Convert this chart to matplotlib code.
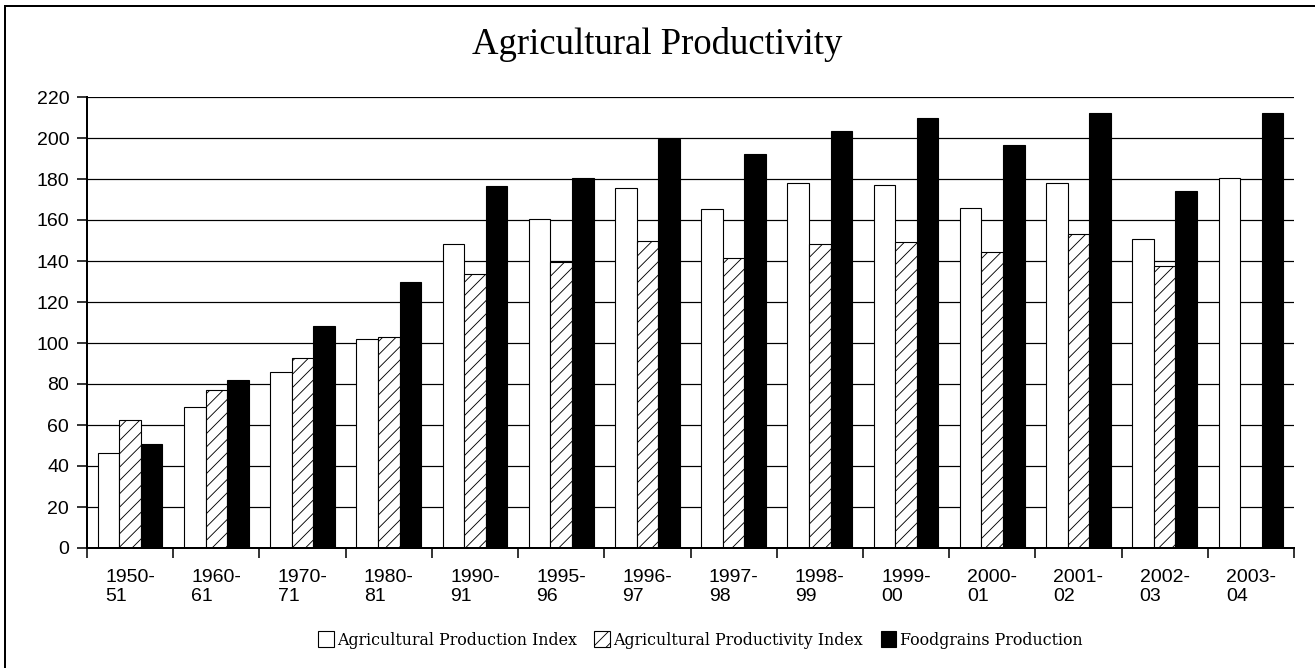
import numpy as np
import matplotlib
matplotlib.use("Agg")
import matplotlib.pyplot as plt
from matplotlib.patches import Rectangle, Patch

# Season labels
years = ["1950-\n51", "1960-\n61", "1970-\n71", "1980-\n81", "1990-\n91",
         "1995-\n96", "1996-\n97", "1997-\n98", "1998-\n99", "1999-\n00",
         "2000-\n01", "2001-\n02", "2002-\n03", "2003-\n04"]

# Index values and foodgrains output
production_index = [46.2, 68.8, 85.9, 102.1, 148.4, 160.7, 175.7, 165.5,
                    177.9, 177.0, 165.7, 178.0, 150.9, 180.5]
productivity_index = [62.4, 77.0, 92.5, 102.8, 133.7, 139.5, 149.6, 141.5,
                      148.4, 149.3, 144.2, 153.2, 137.7, np.nan]
foodgrains = [50.8, 82.0, 108.4, 129.6, 176.4, 180.4, 199.4, 192.3,
              203.6, 209.8, 196.8, 212.0, 174.2, 212.0]

series_names = ["Agricultural Production Index",
                "Agricultural Productivity Index",
                "Foodgrains Production"]

yticks = list(range(0, 221, 20))

W, H, DPI = 1315, 668, 80
fig = plt.figure(figsize=(W / DPI, H / DPI), dpi=DPI)
plt.rcParams["hatch.linewidth"] = 0.8

ax = fig.add_axes([87 / W, 1 - 548 / H, (1294 - 87) / W, (548 - 97) / H])

x = np.arange(len(years))
bw = 0.25
ax.bar(x - bw, production_index, bw, facecolor="white", edgecolor="black",
       linewidth=1.0, zorder=3)
ax.bar(x, productivity_index, bw, facecolor="white", edgecolor="black",
       hatch="//", linewidth=1.0, zorder=3)
ax.bar(x + bw, foodgrains, bw, facecolor="black", edgecolor="black",
       linewidth=1.0, zorder=3)

ax.set_xlim(-0.5, len(years) - 0.5)
ax.set_ylim(0, 220)

# grid and spines
ax.set_yticks(yticks)
ax.yaxis.grid(True, color="black", linewidth=1.1, zorder=0)
ax.set_axisbelow(True)
for s in ["top", "right"]:
    ax.spines[s].set_visible(False)
for s in ["left", "bottom"]:
    ax.spines[s].set_linewidth(1.8)
    ax.spines[s].set_zorder(4)

tick_font = dict(family="Liberation Sans", size=17.5)
ax.set_yticklabels([str(v) for v in yticks], fontdict=tick_font)
ax.tick_params(axis="y", direction="out", length=9, width=1.4, pad=7)

# category boundaries as major ticks, labels on minor ticks
ax.set_xticks(np.arange(-0.5, len(years), 1.0))
ax.set_xticklabels([])
ax.set_xticks(x, minor=True)
ax.set_xticklabels(years, minor=True, fontdict=tick_font,
                   multialignment="left", linespacing=1.12)
ax.tick_params(axis="x", which="major", direction="out", length=9, width=1.4)
ax.tick_params(axis="x", which="minor", length=0, pad=19)

fig.text(657 / W, 1 - 45 / H, "Agricultural Productivity",
         family="Liberation Serif", size=33, ha="center", va="center")

handles = [Patch(facecolor="white", edgecolor="black", linewidth=1.0),
           Patch(facecolor="white", edgecolor="black", hatch="//", linewidth=1.0),
           Patch(facecolor="black", edgecolor="black", linewidth=1.0)]
fig.legend(handles, series_names, loc="center",
           bbox_to_anchor=(700 / W, 1 - 640 / H), ncol=3, frameon=False,
           prop=dict(family="DejaVu Serif", size=14.3),
           handlelength=1.0, handleheight=1.1, handletextpad=0.2,
           columnspacing=1.1)

# chart area border
fig.add_artist(Rectangle((5 / W, -0.1), 1.2, 1.1 - 6.5 / H,
                         transform=fig.transFigure, fill=False,
                         edgecolor="black", linewidth=1.8, clip_on=False))

fig.savefig("out.png", dpi=DPI, facecolor="white")
